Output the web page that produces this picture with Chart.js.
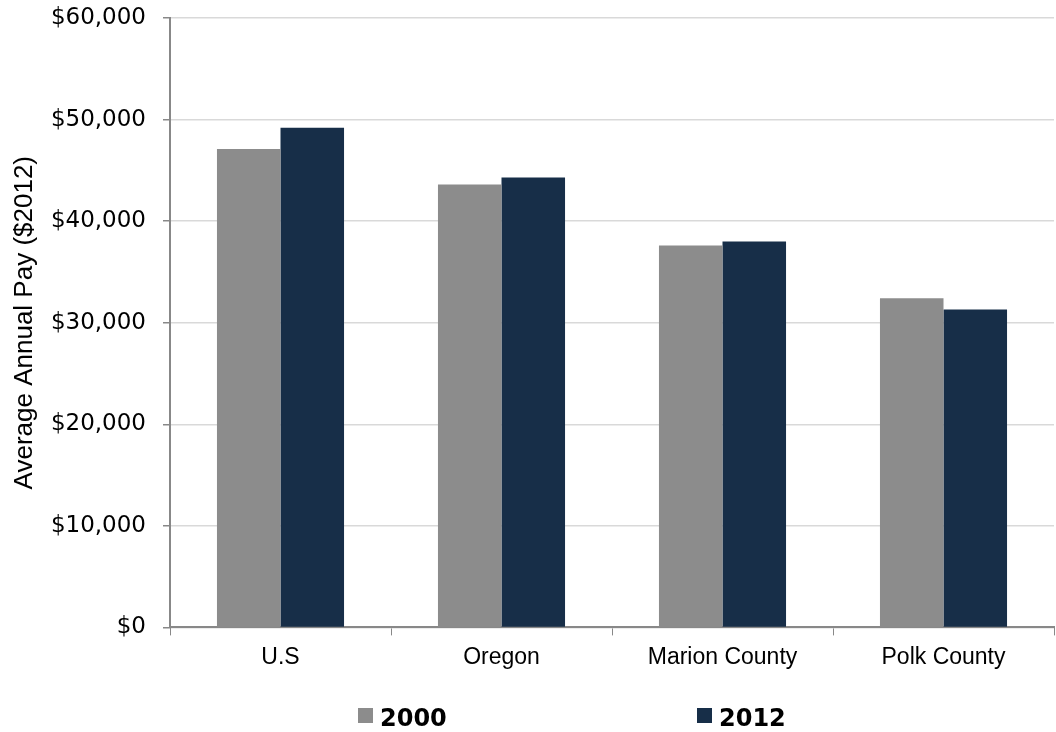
<!DOCTYPE html>
<html>
<head>
<meta charset="utf-8">
<script src="https://cdn.jsdelivr.net/npm/chart.js@4/dist/chart.umd.min.js"></script>
<style>
  html, body { margin: 0; padding: 0; background: #fff; }
  #wrap { width: 1056px; height: 732px; }
</style>
</head>
<body>
<div id="wrap"><canvas id="payChart"></canvas></div>
<script>
const regions = ['U.S', 'Oregon', 'Marion County', 'Polk County'];
const pay2000 = [47100, 43600, 37600, 32400];
const pay2012 = [49200, 44300, 38000, 31300];
const seriesNames = ['2000', '2012'];
const seriesColors = ['#8c8c8c', '#172e48'];

// legend drawn by hand so the two items can sit far apart
const wideLegend = {
  id: 'wideLegend',
  afterDraw(chart) {
    const ctx = chart.ctx;
    const slots = [358, 697];
    ctx.save();
    ctx.font = 'bold 24px "DejaVu Sans"';
    ctx.textBaseline = 'middle';
    ctx.textAlign = 'left';
    chart.data.datasets.forEach((ds, i) => {
      ctx.fillStyle = ds.backgroundColor;
      ctx.fillRect(slots[i], 708, 15, 15);
      ctx.fillStyle = '#000';
      ctx.fillText(ds.label, slots[i] + 22, 720);
    });
    ctx.restore();
  }
};

new Chart(document.getElementById('payChart').getContext('2d'), {
  type: 'bar',
  data: {
    labels: regions,
    datasets: [
      { label: seriesNames[0], data: pay2000, backgroundColor: seriesColors[0] },
      { label: seriesNames[1], data: pay2012, backgroundColor: seriesColors[1] }
    ]
  },
  options: {
    responsive: true,
    maintainAspectRatio: false,
    animation: false,
    layout: { padding: { top: 18, right: 2, bottom: 53, left: 0 } },
    datasets: { bar: { categoryPercentage: 0.575, barPercentage: 1.0 } },
    plugins: {
      legend: { display: false },
      tooltip: { enabled: false }
    },
    scales: {
      x: {
        grid: {
          drawOnChartArea: false,
          drawTicks: true,
          tickLength: 8,
          tickColor: '#888',
          offset: true
        },
        border: { color: '#888', width: 2 },
        ticks: {
          color: '#000',
          padding: 8,
          font: { family: '"Liberation Sans", Arial, sans-serif', size: 23 }
        }
      },
      y: {
        min: 0,
        max: 60000,
        // fixed axis width, and no extra room reserved above the top label
        afterFit(scale) {
          scale.width = 170;
          scale.paddingTop = 0;
        },
        grid: { color: '#d9d9d9', lineWidth: 1.5, tickColor: '#888', tickLength: 7 },
        border: { color: '#888', width: 2 },
        ticks: {
          stepSize: 10000,
          color: '#000',
          padding: 17,
          font: { family: '"DejaVu Sans", sans-serif', size: 23 },
          callback: v => '$' + v.toLocaleString('en-US')
        },
        title: {
          display: true,
          text: 'Average Annual Pay ($2012)',
          color: '#000',
          padding: { top: 9, bottom: 0 },
          font: { family: '"Liberation Sans", Arial, sans-serif', size: 26 }
        }
      }
    }
  },
  plugins: [wideLegend]
});
</script>
</body>
</html>
